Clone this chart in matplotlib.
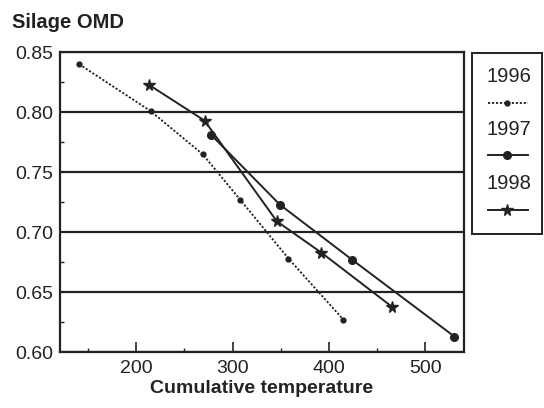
import matplotlib
matplotlib.use('Agg')
import matplotlib.pyplot as plt
from matplotlib.ticker import MultipleLocator
from matplotlib.lines import Line2D

plt.rcParams['font.family'] = ['Liberation Sans', 'DejaVu Sans']

# Data
temp_1996 = [141, 215, 269, 308, 358, 415]
omd_1996 = [0.840, 0.801, 0.765, 0.727, 0.678, 0.627]

temp_1997 = [278, 349, 424, 530]
omd_1997 = [0.781, 0.723, 0.677, 0.613]

temp_1998 = [213, 271, 346, 392, 465]
omd_1998 = [0.823, 0.793, 0.709, 0.683, 0.638]

years = ['1996', '1997', '1998']
ink = '#222222'
styles = [
    dict(linestyle=(0, (1.2, 1.0)), linewidth=1.3, marker='o', markersize=3.5),
    dict(linestyle='-', linewidth=1.4, marker='o', markersize=5.5),
    dict(linestyle='-', linewidth=1.4, marker='*', markersize=8.5),
]

fig = plt.figure(figsize=(5.44, 4.08), dpi=100)
ax = fig.add_axes([0.110, 0.137, 0.743, 0.735])

for x, y, st in zip([temp_1996, temp_1997, temp_1998],
                    [omd_1996, omd_1997, omd_1998], styles):
    ax.plot(x, y, color=ink, markerfacecolor=ink, markeredgecolor=ink, **st)

ax.set_xlim(121, 540)
ax.set_ylim(0.60, 0.85)
ax.xaxis.set_major_locator(MultipleLocator(100))
ax.xaxis.set_minor_locator(MultipleLocator(50))
ax.yaxis.set_major_locator(MultipleLocator(0.05))
ax.yaxis.set_minor_locator(MultipleLocator(0.025))
ax.yaxis.set_major_formatter(plt.FuncFormatter(lambda v, p: f'{v:.2f}'))
ax.tick_params(axis='both', which='major', direction='in', length=7,
               width=1.2, labelsize=14, color=ink, labelcolor=ink)
ax.tick_params(axis='both', which='minor', direction='in', length=3,
               width=1.0, color=ink)
ax.tick_params(axis='x', pad=6)
ax.tick_params(axis='y', pad=5)
ax.grid(axis='y', which='major', color=ink, linewidth=1.6)
for s in ax.spines.values():
    s.set_color(ink)
    s.set_linewidth(1.6)

ax.set_xlabel('Cumulative temperature', fontsize=14, fontweight='bold',
              color=ink, labelpad=2)
fig.text(0.022, 0.945, 'Silage OMD', fontsize=14.5, fontweight='bold',
         color=ink, va='center', ha='left')

# legend box: label on top, sample line underneath
lax = fig.add_axes([0.868, 0.426, 0.128, 0.444])
lax.set_xlim(0, 1)
lax.set_ylim(0, 1)
lax.set_xticks([])
lax.set_yticks([])
for s in lax.spines.values():
    s.set_color(ink)
    s.set_linewidth(1.4)
label_y = [0.87, 0.58, 0.28]
for yr, st, ly in zip(years, styles, label_y):
    lax.text(0.53, ly, yr, fontsize=14.5, ha='center', va='center', color=ink)
    lax.add_line(Line2D([0.22, 0.50, 0.80], [ly - 0.145] * 3, color=ink,
                        markerfacecolor=ink, markeredgecolor=ink,
                        markevery=[1], **st))

fig.savefig('out.png', dpi=100)
